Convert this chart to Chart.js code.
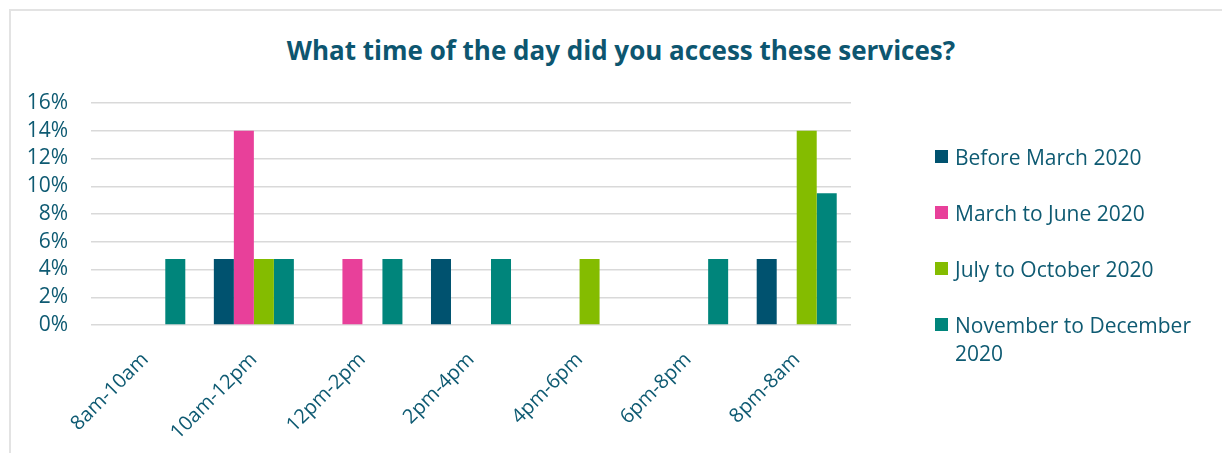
<!DOCTYPE html>
<html>
<head>
<meta charset="utf-8">
<script src="https://cdn.jsdelivr.net/npm/chart.js@4"></script>
<style>
    body { margin: 0; background: #fff; font-family: 'Open Sans', sans-serif; }
    #wrap { position: relative; width: 1222px; height: 453px; overflow: hidden; }
    #frame { position: absolute; left: 9px; top: 9px; right: -10px; bottom: -10px; border-left: 2px solid #e3e3e3; border-top: 2px solid #e3e3e3; }
    #title { position: absolute; left: 0; top: 33px; width: 1242px; text-align: center; font-weight: 700; font-size: 26px; line-height: 34px; color: #0d5670; }
    #legend { position: absolute; left: 935px; top: 143px; width: 285px; }
    .item { display: flex; align-items: flex-start; margin-bottom: 28px; }
    .box { width: 13px; height: 13px; margin-top: 7px; margin-right: 7px; flex: none; }
    .label { font-size: 21px; line-height: 28px; color: #0e5a72; width: 262px; }
    canvas { position: absolute; left: 0; top: 0; }
</style>
</head>
<body>
<div id="wrap">
    <div id="frame"></div>
    <div id="title">What time of the day did you access these services?</div>
    <canvas id="timeChart" width="1222" height="453"></canvas>
    <div id="legend"></div>
</div>
<script>
// Horários de acesso e percentuais por período
const categories = ['8am-10am', '10am-12pm', '12pm-2pm', '2pm-4pm', '4pm-6pm', '6pm-8pm', '8pm-8am'];
const seriesNames = ['Before March 2020', 'March to June 2020', 'July to October 2020', 'November to December 2020'];
const beforeMarch = [0, 4.76, 0, 4.76, 0, 0, 4.76];
const marchToJune = [0, 14.0, 4.76, 0, 0, 0, 0];
const julyToOctober = [0, 4.76, 0, 0, 4.76, 0, 14.0];
const novemberToDecember = [4.76, 4.76, 4.76, 4.76, 0, 4.76, 9.5];
const yTicks = [0, 2, 4, 6, 8, 10, 12, 14, 16];

const colors = ['#00526f', '#e8409a', '#84bc00', '#00857b'];
const textColor = '#0e5a72';

const seriesValues = [beforeMarch, marchToJune, julyToOctober, novemberToDecember];

const ctx = document.querySelector('#timeChart').getContext('2d');

const timeChart = new Chart(ctx, {
    type: 'bar',
    data: {
        labels: categories,
        datasets: seriesNames.map((name, i) => ({
            label: name,
            data: seriesValues[i],
            backgroundColor: colors[i],
            borderWidth: 0,
            categoryPercentage: 0.737,
            barPercentage: 1.0,
        })),
    },
    options: {
        responsive: false,
        animation: false,
        layout: { padding: { top: 103, right: 371, bottom: 0, left: 0 } },
        plugins: {
            legend: { display: false },
            title: { display: false },
            tooltip: { enabled: false },
        },
        scales: {
            x: {
                grid: { display: false },
                border: { display: false },
                ticks: {
                    color: textColor,
                    font: { family: 'Open Sans', size: 20 },
                    maxRotation: 45,
                    minRotation: 45,
                    autoSkip: false,
                    padding: 15,
                },
                afterFit: scale => { scale.height = 128; },
            },
            y: {
                min: 0,
                max: 16,
                afterBuildTicks: scale => { scale.ticks = yTicks.map(v => ({ value: v })); },
                grid: { color: '#d9d9d9', lineWidth: 1.5, drawTicks: false },
                border: { display: false },
                ticks: {
                    color: textColor,
                    font: { family: 'Open Sans', size: 21 },
                    autoSkip: false,
                    padding: 23,
                    callback: value => value + '%',
                },
                afterFit: scale => { scale.width = 91; },
            },
        },
    },
});

// Legenda em HTML para permitir quebra de linha no texto
const legend = document.querySelector('#legend');
seriesNames.forEach((name, i) => {
    const item = document.createElement('div');
    item.className = 'item';
    item.innerHTML = '<span class="box" style="background:' + colors[i] + '"></span><span class="label">' + name + '</span>';
    legend.appendChild(item);
});
</script>
</body>
</html>
